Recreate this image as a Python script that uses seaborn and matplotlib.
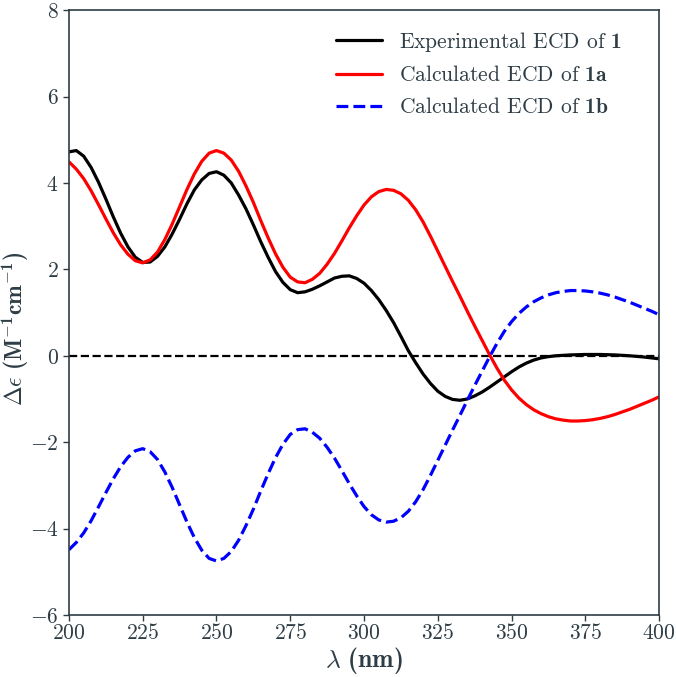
import numpy as np
import pandas as pd
import matplotlib
matplotlib.use("Agg")
import matplotlib.pyplot as plt
import seaborn as sns

# Wavelengths (nm), every 2.5 nm
wavelength = np.arange(200, 400.1, 2.5)

# Experimental ECD of 1
exp_1 = [4.72, 4.75, 4.62, 4.36, 4.02, 3.63, 3.22, 2.84, 2.52, 2.28,
         2.16, 2.17, 2.30, 2.52, 2.82, 3.16, 3.52, 3.84, 4.07, 4.22,
         4.26, 4.18, 4.00, 3.72, 3.40, 3.03, 2.64, 2.28, 1.95, 1.70,
         1.53, 1.46, 1.48, 1.54, 1.62, 1.71, 1.80, 1.84, 1.85, 1.79,
         1.68, 1.51, 1.30, 1.05, 0.77, 0.45, 0.12, -0.16, -0.42, -0.64,
         -0.82, -0.94, -1.01, -1.03, -1.00, -0.93, -0.84, -0.73, -0.61, -0.49,
         -0.37, -0.26, -0.17, -0.10, -0.05, -0.02, 0.00, 0.01, 0.02, 0.025,
         0.03, 0.03, 0.03, 0.025, 0.02, 0.01, 0.00, -0.015, -0.03, -0.05,
         -0.07]

# Calculated ECD of 1a
calc_1a = [4.49, 4.32, 4.10, 3.82, 3.50, 3.17, 2.85, 2.57, 2.35, 2.20,
           2.15, 2.22, 2.40, 2.69, 3.05, 3.45, 3.85, 4.21, 4.50, 4.69,
           4.75, 4.69, 4.53, 4.27, 3.93, 3.55, 3.13, 2.73, 2.36, 2.05,
           1.82, 1.71, 1.69, 1.77, 1.91, 2.12, 2.37, 2.66, 2.96, 3.24,
           3.49, 3.68, 3.80, 3.85, 3.83, 3.75, 3.60, 3.38, 3.10, 2.77,
           2.42, 2.07, 1.72, 1.38, 1.03, 0.69, 0.36, 0.03, -0.28, -0.56,
           -0.79, -0.98, -1.13, -1.25, -1.34, -1.41, -1.46, -1.49, -1.51, -1.51,
           -1.50, -1.48, -1.45, -1.41, -1.36, -1.30, -1.24, -1.17, -1.10, -1.03,
           -0.95]

# 1b is the enantiomer: mirror image of 1a
calc_1b = [-v for v in calc_1a]

labels = ["Experimental ECD of $\\mathbf{1}$",
          "Calculated ECD of $\\mathbf{1a}$",
          "Calculated ECD of $\\mathbf{1b}$"]

df = pd.DataFrame({"wl": wavelength, "exp": exp_1, "a": calc_1a, "b": calc_1b})

sns.set_style("ticks")
plt.rcParams["font.family"] = ["cmr10", "DejaVu Serif"]
plt.rcParams["mathtext.fontset"] = "custom"
plt.rcParams["mathtext.rm"] = "cmr10"
plt.rcParams["mathtext.it"] = "cmmi10"
plt.rcParams["mathtext.bf"] = "cmb10"
plt.rcParams["mathtext.fallback"] = "cm"
plt.rcParams["axes.formatter.use_mathtext"] = True
plt.rcParams["axes.unicode_minus"] = True

dark = "#2e3d45"
fig, ax = plt.subplots(figsize=(6.76, 6.77), dpi=100)
fig.subplots_adjust(left=0.102, right=0.975, bottom=0.0916, top=0.985)

ax.axhline(0, color="black", linestyle="--", linewidth=1.6, zorder=1)
sns.lineplot(data=df, x="wl", y="exp", ax=ax, color="black", linewidth=2.3, label=labels[0])
sns.lineplot(data=df, x="wl", y="a", ax=ax, color="#ff0000", linewidth=2.3, label=labels[1])
sns.lineplot(data=df, x="wl", y="b", ax=ax, color="#0000ff", linewidth=2.3,
             linestyle="--", label=labels[2])

ax.set_xlim(200, 400)
ax.set_ylim(-6, 8)
ax.set_xticks(np.arange(200, 401, 25))
ax.set_yticks(np.arange(-6, 9, 2))
ax.tick_params(labelsize=15.5, colors=dark, length=4, width=1)
ax.tick_params(axis="x", pad=2)
for s in ax.spines.values():
    s.set_color(dark)
    s.set_linewidth(1.2)

ax.set_xlabel(r"$\lambda\ \mathbf{(nm)}$", fontsize=18.5, color=dark, labelpad=1)
ax.set_ylabel(r"$\mathbf{\Delta\epsilon\ (M^{-1}cm^{-1})}$", fontsize=17, color=dark)
ax.yaxis.set_label_coords(-0.063, 0.473)

leg = ax.legend(loc="upper right", bbox_to_anchor=(0.97, 1.0), frameon=False,
                fontsize=15.5, handlelength=2.1, labelspacing=0.55, borderaxespad=0.5)
for t in leg.get_texts():
    t.set_color(dark)

plt.savefig("out.png", dpi=100)
